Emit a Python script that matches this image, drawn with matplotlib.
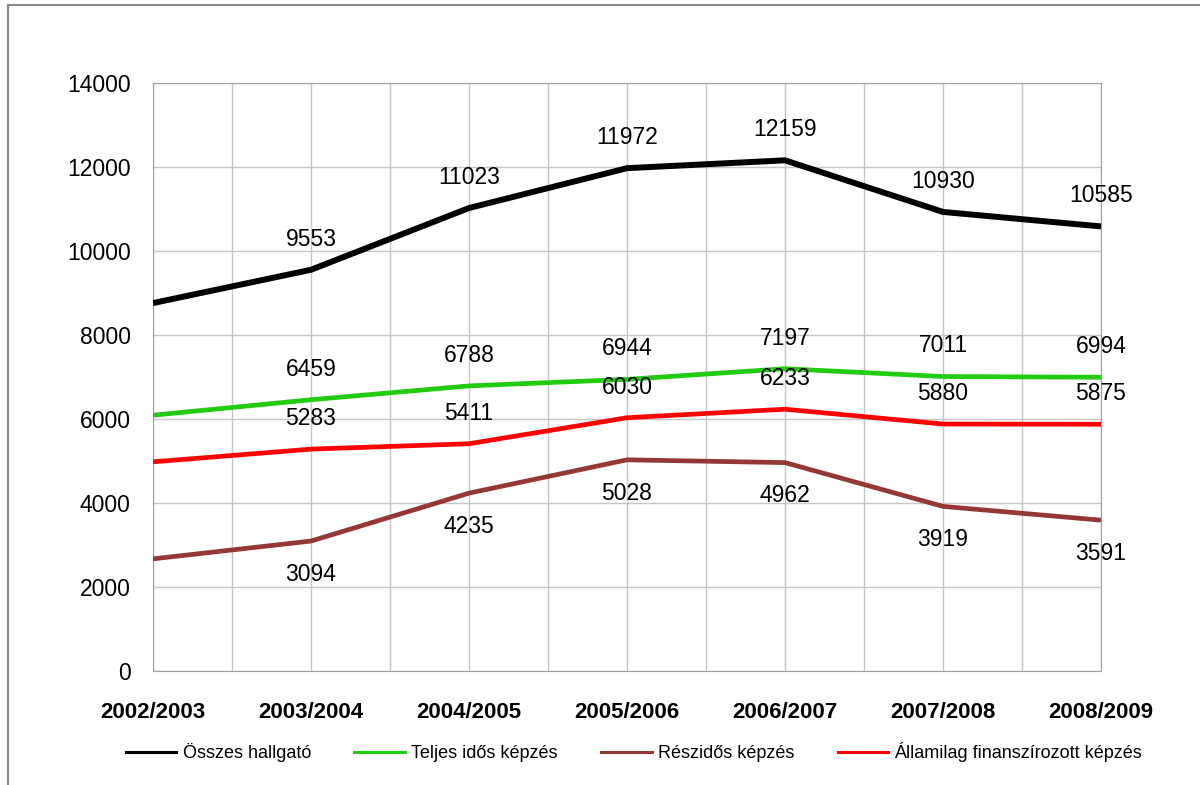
import matplotlib.pyplot as plt
from matplotlib.lines import Line2D

years = ['2002/2003', '2003/2004', '2004/2005', '2005/2006',
         '2006/2007', '2007/2008', '2008/2009']
osszes = [8760, 9553, 11023, 11972, 12159, 10930, 10585]
teljes = [6090, 6459, 6788, 6944, 7197, 7011, 6994]
reszidos = [2670, 3094, 4235, 5028, 4962, 3919, 3591]
allami = [4980, 5283, 5411, 6030, 6233, 5880, 5875]

plt.rcParams['font.family'] = ['Liberation Sans', 'DejaVu Sans']

fig = plt.figure(figsize=(12, 7.85), dpi=100)
ax = fig.add_axes([153/1200, 1 - 671/785, 948/1200, 588/785])

x = list(range(len(years)))
series = [
    (osszes, 'Összes hallgató', 'black', 4.3, 'above'),
    (teljes, 'Teljes idős képzés', '#22cc11', 3.4, 'above'),
    (reszidos, 'Részidős képzés', '#953735', 3.4, 'below'),
    (allami, 'Államilag finanszírozott képzés', '#ff0000', 3.4, 'above'),
]
handles = []
for vals, name, col, lw, pos in series:
    ax.plot(x, vals, color=col, lw=lw, solid_capstyle='butt',
            solid_joinstyle='round', label=name, zorder=3)
    handles.append(Line2D([], [], color=col, lw=2.2))
    for i, v in enumerate(vals):
        if i == 0:
            continue
        dy = 22 if pos == 'above' else -24
        ax.annotate(str(v), (i, v), xytext=(0, dy), textcoords='offset points',
                    ha='center', va='center', fontsize=16.5, color='black',
                    zorder=4)

ax.set_xlim(0, len(years) - 1)
ax.set_ylim(0, 14000)
ax.set_yticks(range(0, 14001, 2000))
ax.set_xticks(x)
ax.set_xticks([i + 0.5 for i in x[:-1]], minor=True)
ax.set_xticklabels(years, fontsize=16, fontweight='bold')
ax.tick_params(axis='y', labelsize=16.5, length=0, pad=16)
ax.tick_params(axis='x', which='both', length=0, pad=22)
ax.grid(True, which='both', axis='x', color='#c6c6c6', lw=1)
ax.grid(True, axis='y', color='#c6c6c6', lw=1)
ax.set_axisbelow(True)
for s in ax.spines.values():
    s.set_color('#a0a0a0')

fig.legend(handles, [s[1] for s in series], loc='center',
           bbox_to_anchor=(634/1200, 1 - 752/785), ncol=4, frameon=False,
           fontsize=13, handlelength=2.8, handletextpad=0.35,
           columnspacing=2.4)

fig.add_artist(Line2D([8/1200, 8/1200], [0, 1 - 5/785], color='#888888',
                      lw=1.5, transform=fig.transFigure))
fig.add_artist(Line2D([8/1200, 1], [1 - 5/785, 1 - 5/785], color='#888888',
                      lw=1.5, transform=fig.transFigure))

fig.savefig('out.png', dpi=100)
